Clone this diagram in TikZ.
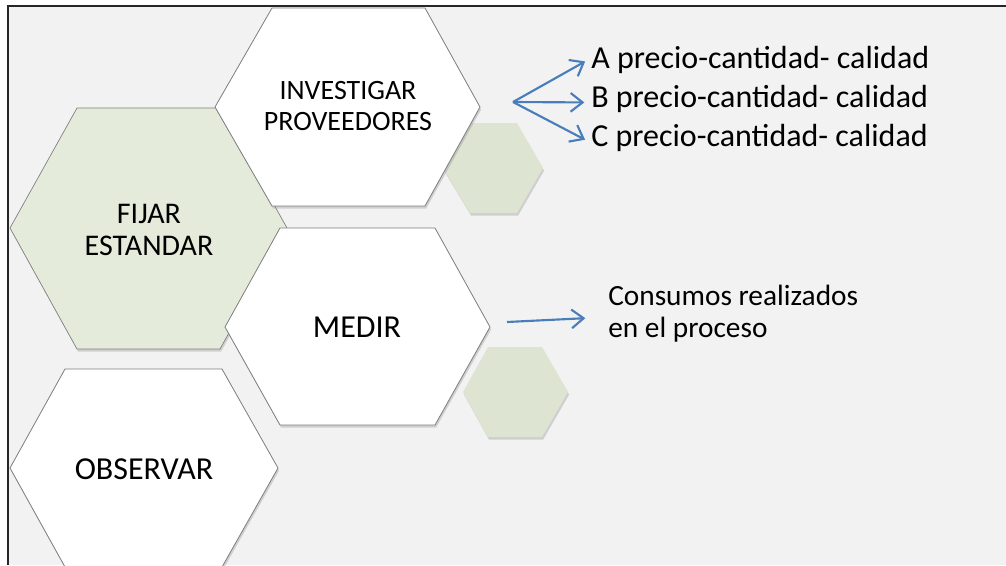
\documentclass[tikz,border=0pt]{standalone}
\usepackage{fontspec}
\setmainfont{Carlito}
\usepackage{tikz}
\usepackage{xcolor}
\usetikzlibrary{arrows.meta, positioning, shadows}

\definecolor{fondo}{RGB}{242,242,242}
\definecolor{verdeclaro}{RGB}{229,235,218}
\definecolor{verdehex}{RGB}{221,229,210}
\definecolor{azulflecha}{RGB}{74,126,187}
\definecolor{bordehex}{RGB}{125,125,125}

\begin{document}
\begin{tikzpicture}[
        x=0.75pt, y=-0.75pt,
        marco/.style={draw=black!85, line width=1.6pt},
        hexblanco/.style={fill=white, draw=bordehex, line width=0.6pt,
            drop shadow={shadow xshift=0.8pt, shadow yshift=-2pt, opacity=0.3}},
        hexverde/.style={fill=verdeclaro, draw=bordehex, line width=0.5pt,
            drop shadow={shadow xshift=0.8pt, shadow yshift=-2pt, opacity=0.3}},
        hexchico/.style={fill=verdehex, draw=none,
            drop shadow={shadow xshift=0.8pt, shadow yshift=-2pt, opacity=0.3}},
        etiqueta/.style={align=center, inner sep=0pt},
        texto/.style={inner sep=0pt, anchor=base west, align=left},
        flecha/.style={azulflecha, line width=1.6pt, -{Straight Barb[length=9pt, width=14pt]}, shorten >=5pt}
    ]

    \clip (0,0) rectangle (1006,565);

    % Fondo y marco
    \fill[fondo] (8,6) rectangle (1006,565);
    \draw[marco] (1006,6) -- (8,6) -- (8,565);

    % Hexagonos del fondo
    \draw[hexverde] (10,228) -- (77,108) -- (220,108) -- (287,228) -- (220,349) -- (77,349) -- cycle;
    \fill[hexchico] (443,168) -- (470,123) -- (517,123) -- (543,168) -- (517,213) -- (470,213) -- cycle;
    \fill[hexchico] (463,392) -- (488,347) -- (542,347) -- (568,392) -- (542,437) -- (488,437) -- cycle;

    % Hexagonos blancos
    \draw[hexblanco] (215,107) -- (272,8) -- (425,8) -- (480,107) -- (425,206) -- (272,206) -- cycle;
    \draw[hexblanco] (225,327) -- (280,228) -- (435,228) -- (490,327) -- (435,425) -- (280,425) -- cycle;
    \draw[hexblanco] (10,468) -- (65,369) -- (222,369) -- (278,468) -- (222,567) -- (65,567) -- cycle;

    % Etiquetas
    \node (inv) [etiqueta, font=\fontsize{21}{23}\selectfont] at (348,106) {INVESTIGAR\\PROVEEDORES};
    \node (fij) [etiqueta, font=\fontsize{22.5}{23.5}\selectfont] at (149,230) {FIJAR\\ESTANDAR};
    \node (med) [etiqueta, font=\fontsize{24}{26}\selectfont] at (357,327) {MEDIR};
    \node (obs) [etiqueta, font=\fontsize{24}{26}\selectfont] at (144,469) {OBSERVAR};

    % Textos de la derecha
    \node (txt_A) [texto, font=\fontsize{24}{28}\selectfont] at (591,68) {A precio-cantidad- calidad};
    \node (txt_B) [texto, font=\fontsize{24}{28}\selectfont] at (591,107) {B precio-cantidad- calidad};
    \node (txt_C) [texto, font=\fontsize{24}{28}\selectfont] at (591,146) {C precio-cantidad- calidad};
    \node (txt_cons) [texto, font=\fontsize{22}{24}\selectfont] at (608,337) {Consumos realizados\\en el proceso};

    % Flechas
    \coordinate (inv_der) at (513,102);
    \coordinate (med_der) at (507,322);
    \draw[flecha] (inv_der) -- ([yshift=1pt]txt_A.west);
    \draw[flecha] (inv_der) -- ([yshift=-3pt]txt_B.west);
    \draw[flecha] (inv_der) -- ([yshift=-4pt]txt_C.west);
    \draw[flecha] (med_der) -- ([xshift=-12pt, yshift=-3.5pt]txt_cons.west);

\end{tikzpicture}
\end{document}
